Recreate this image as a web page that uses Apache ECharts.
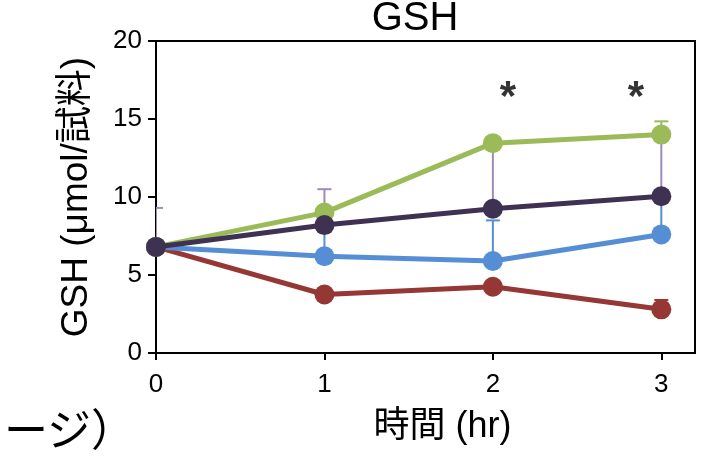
<!DOCTYPE html>
<html><head><meta charset="utf-8">
<script src="https://cdn.jsdelivr.net/npm/echarts@6/dist/echarts.min.js"></script>
<style>html,body{margin:0;padding:0;background:#fff}#c{width:711px;height:461px}</style>
</head><body><div id="c"></div>
<script>
// ---- data ----
const timePoints = [0, 1, 2, 3];
const xTickValues = [0, 1, 2, 3];
const greenValues  = [6.8, 9.0, 13.45, 14.0];
const greenErr     = [0, 0, 0, 0.85];
const purpleValues = [6.8, 8.2, 9.25, 10.05];
const purpleErr    = [2.5, 2.3, 4.2, 3.9];
const blueValues   = [6.8, 6.2, 5.9, 7.6];
const blueErr      = [0, 1.9, 2.6, 2.4];
const redValues    = [6.8, 3.75, 4.25, 2.8];
const redErr       = [0, 0, 0, 0.6];
const sigMarks     = [[2.09, 16.3], [2.85, 16.3]];
const titleText = 'GSH';
const yName = 'GSH (μmol/試料)';
const xName = '時間 (hr)';
const cutText = 'ージ）';

const FONT = '"Liberation Sans", Arial, "Noto Sans CJK JP", sans-serif';
const C = {green:'#9bbb59', purple:'#3f3151', blue:'#558ed5', red:'#953735', lav:'#9d8bbd'};

function pairs(vals){ return timePoints.map((t,i)=>[t, vals[i]]); }
function errData(vals, errs){ return timePoints.map((t,i)=>[t, vals[i], errs[i]]).filter(d=>d[2]>0); }

function errSeries(vals, errs, color){
  return {
    type:'custom', z:1, clip:true,
    data: errData(vals, errs),
    renderItem: function(params, api){
      const x = api.value(0), v = api.value(1), e = api.value(2);
      const p0 = api.coord([x, v]);
      const p1 = api.coord([x, v + e]);
      const half = 7;
      return {type:'group', children:[
        {type:'line', shape:{x1:p0[0], y1:p0[1], x2:p1[0], y2:p1[1]}, style:{stroke:color, lineWidth:2}},
        {type:'line', shape:{x1:p1[0]-half, y1:p1[1], x2:p1[0]+half, y2:p1[1]}, style:{stroke:color, lineWidth:2}}
      ]};
    }
  };
}
function lineSeries(name, vals, color, z){
  return {
    name, type:'line', z, data: pairs(vals),
    symbol:'circle', symbolSize:20,
    lineStyle:{color, width:5}, itemStyle:{color},
    emphasis:{disabled:true}, animation:false
  };
}

const chart = echarts.init(document.getElementById('c'), null, {renderer:'canvas'});
chart.setOption({
  animation:false,
  backgroundColor:'#fff',
  title:{text:titleText, left:415, top:-1, padding:0, textAlign:'center',
    textStyle:{fontFamily:FONT, fontSize:40, fontWeight:'normal', color:'#000'}},
  grid:{left:156, top:41, right:16, bottom:108, show:true, borderColor:'#000', borderWidth:2, backgroundColor:'transparent'},
  xAxis:{
    type:'value', min:0, max:3.2,
    name:xName, nameLocation:'middle', nameGap:56,
    nameTextStyle:{fontFamily:FONT, fontSize:36, color:'#000', padding:[0,0,0,34]},
    axisLine:{lineStyle:{color:'#000', width:2}},
    axisTick:{customValues:xTickValues, length:7, lineStyle:{color:'#000', width:2}},
    axisLabel:{customValues:xTickValues, fontFamily:FONT, fontSize:26, color:'#000', margin:19},
    splitLine:{show:false}
  },
  yAxis:{
    type:'value', min:0, max:20, interval:5,
    name:yName, nameLocation:'middle', nameGap:61, nameRotate:90,
    nameTextStyle:{fontFamily:FONT, fontSize:37, color:'#000'},
    axisLine:{show:true, lineStyle:{color:'#000', width:2}},
    axisTick:{show:true, length:8, lineStyle:{color:'#000', width:2}},
    axisLabel:{fontFamily:FONT, fontSize:26, color:'#000', margin:14},
    splitLine:{show:false}
  },
  graphic:[{type:'text', left:4, top:407, style:{text:cutText, font:'44px "Noto Sans CJK JP", sans-serif', fill:'#000'}}],
  series:[
    errSeries(redValues, redErr, C.red),
    errSeries(blueValues, blueErr, C.blue),
    errSeries(greenValues, greenErr, C.green),
    errSeries(purpleValues, purpleErr, C.lav),
    lineSeries('red', redValues, C.red, 2),
    lineSeries('blue', blueValues, C.blue, 3),
    lineSeries('green', greenValues, C.green, 4),
    lineSeries('purple', purpleValues, C.purple, 5),
    {type:'scatter', z:6, data:sigMarks, symbolSize:1, itemStyle:{color:'transparent'},
     label:{show:true, position:'inside', formatter:'*', fontFamily:FONT, fontSize:42, fontWeight:'bold', color:'#000'}}
  ]
});
</script></body></html>
